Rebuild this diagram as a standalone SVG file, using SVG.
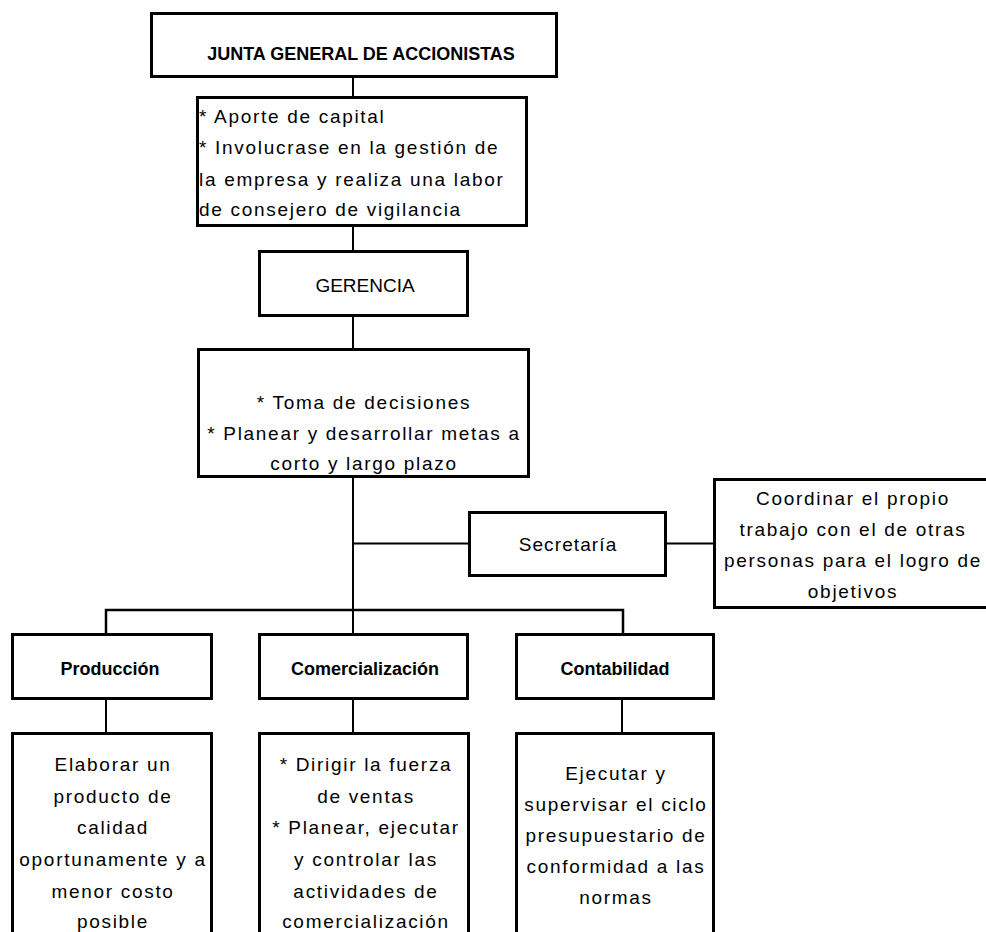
<svg xmlns="http://www.w3.org/2000/svg" width="986" height="932" viewBox="0 0 986 932">
<style>
.box{fill:#fff;stroke:#000;stroke-width:3}
.con{stroke:#000;stroke-width:2;fill:none}
.t{font-family:"Liberation Sans",Arial,sans-serif;font-size:19px;fill:#000;letter-spacing:1.7px}
.c{text-anchor:middle}
.b{font-family:"Liberation Sans",Arial,sans-serif;font-size:18px;font-weight:bold;fill:#000;text-anchor:middle}
</style>
<rect width="986" height="932" fill="#fff"/>
<g id="connectors">
<path class="con" d="M353 78V96M353 227V250M353 317V348M353 478V633M353 543.5H469M667 543.5H713"/>
<path class="con" d="M106 633V610H623V633" style="stroke-width:2.5"/>
<path class="con" d="M106 700V732M353 700V732M622 700V732"/>
</g>
<g id="junta">
<rect class="box" x="151.5" y="13.5" width="405" height="63"/>
<text class="b" x="361" y="59.5">JUNTA GENERAL DE ACCIONISTAS</text>
</g>
<g id="junta-funciones">
<rect class="box" x="197.5" y="97.5" width="329" height="128"/>
<text class="t" x="199" y="123">* Aporte de capital</text>
<text class="t" x="199" y="154">* Involucrase en la gestión de</text>
<text class="t" x="199" y="186">la empresa y realiza una labor</text>
<text class="t" x="199" y="216">de consejero de vigilancia</text>
</g>
<g id="gerencia">
<rect class="box" x="259.5" y="251.5" width="208" height="64"/>
<text class="t c" x="365" y="291.5" style="letter-spacing:0">GERENCIA</text>
</g>
<g id="gerencia-funciones">
<rect class="box" x="198.5" y="349.5" width="330" height="127"/>
<text class="t c" x="364" y="409">* Toma de decisiones</text>
<text class="t c" x="364" y="440">* Planear y desarrollar metas a</text>
<text class="t c" x="364" y="470">corto y largo plazo</text>
</g>
<g id="secretaria">
<rect class="box" x="469.5" y="512.5" width="196" height="63"/>
<text class="t c" x="568" y="551" style="letter-spacing:1.1px">Secretaría</text>
</g>
<g id="secretaria-funciones">
<rect class="box" x="714.5" y="479.5" width="290" height="128"/>
<text class="t c" x="853" y="505">Coordinar el propio</text>
<text class="t c" x="853" y="536">trabajo con el de otras</text>
<text class="t c" x="853" y="567">personas para el logro de</text>
<text class="t c" x="853" y="598">objetivos</text>
</g>
<g id="produccion">
<rect class="box" x="12.5" y="634.5" width="199" height="64"/>
<text class="b" x="110" y="674.5">Producción</text>
</g>
<g id="comercializacion">
<rect class="box" x="259.5" y="634.5" width="208" height="64"/>
<text class="b" x="365" y="674.5">Comercialización</text>
</g>
<g id="contabilidad">
<rect class="box" x="516.5" y="634.5" width="197" height="64"/>
<text class="b" x="615" y="674.5">Contabilidad</text>
</g>
<g id="produccion-funciones">
<rect class="box" x="12.5" y="733.5" width="199" height="220"/>
<text class="t c" x="113" y="771">Elaborar un</text>
<text class="t c" x="113" y="803">producto de</text>
<text class="t c" x="113" y="834">calidad</text>
<text class="t c" x="113" y="866">oportunamente y a</text>
<text class="t c" x="113" y="898">menor costo</text>
<text class="t c" x="113" y="928">posible</text>
</g>
<g id="comercializacion-funciones">
<rect class="box" x="259.5" y="733.5" width="209" height="220"/>
<text class="t c" x="366" y="771">* Dirigir la fuerza</text>
<text class="t c" x="366" y="803">de ventas</text>
<text class="t c" x="366" y="834">* Planear, ejecutar</text>
<text class="t c" x="366" y="866">y controlar las</text>
<text class="t c" x="366" y="898">actividades de</text>
<text class="t c" x="366" y="928">comercialización</text>
</g>
<g id="contabilidad-funciones">
<rect class="box" x="516.5" y="733.5" width="197" height="220"/>
<text class="t c" x="616" y="780">Ejecutar y</text>
<text class="t c" x="616" y="811">supervisar el ciclo</text>
<text class="t c" x="616" y="842">presupuestario de</text>
<text class="t c" x="616" y="873">conformidad a las</text>
<text class="t c" x="616" y="904">normas</text>
</g>
</svg>
